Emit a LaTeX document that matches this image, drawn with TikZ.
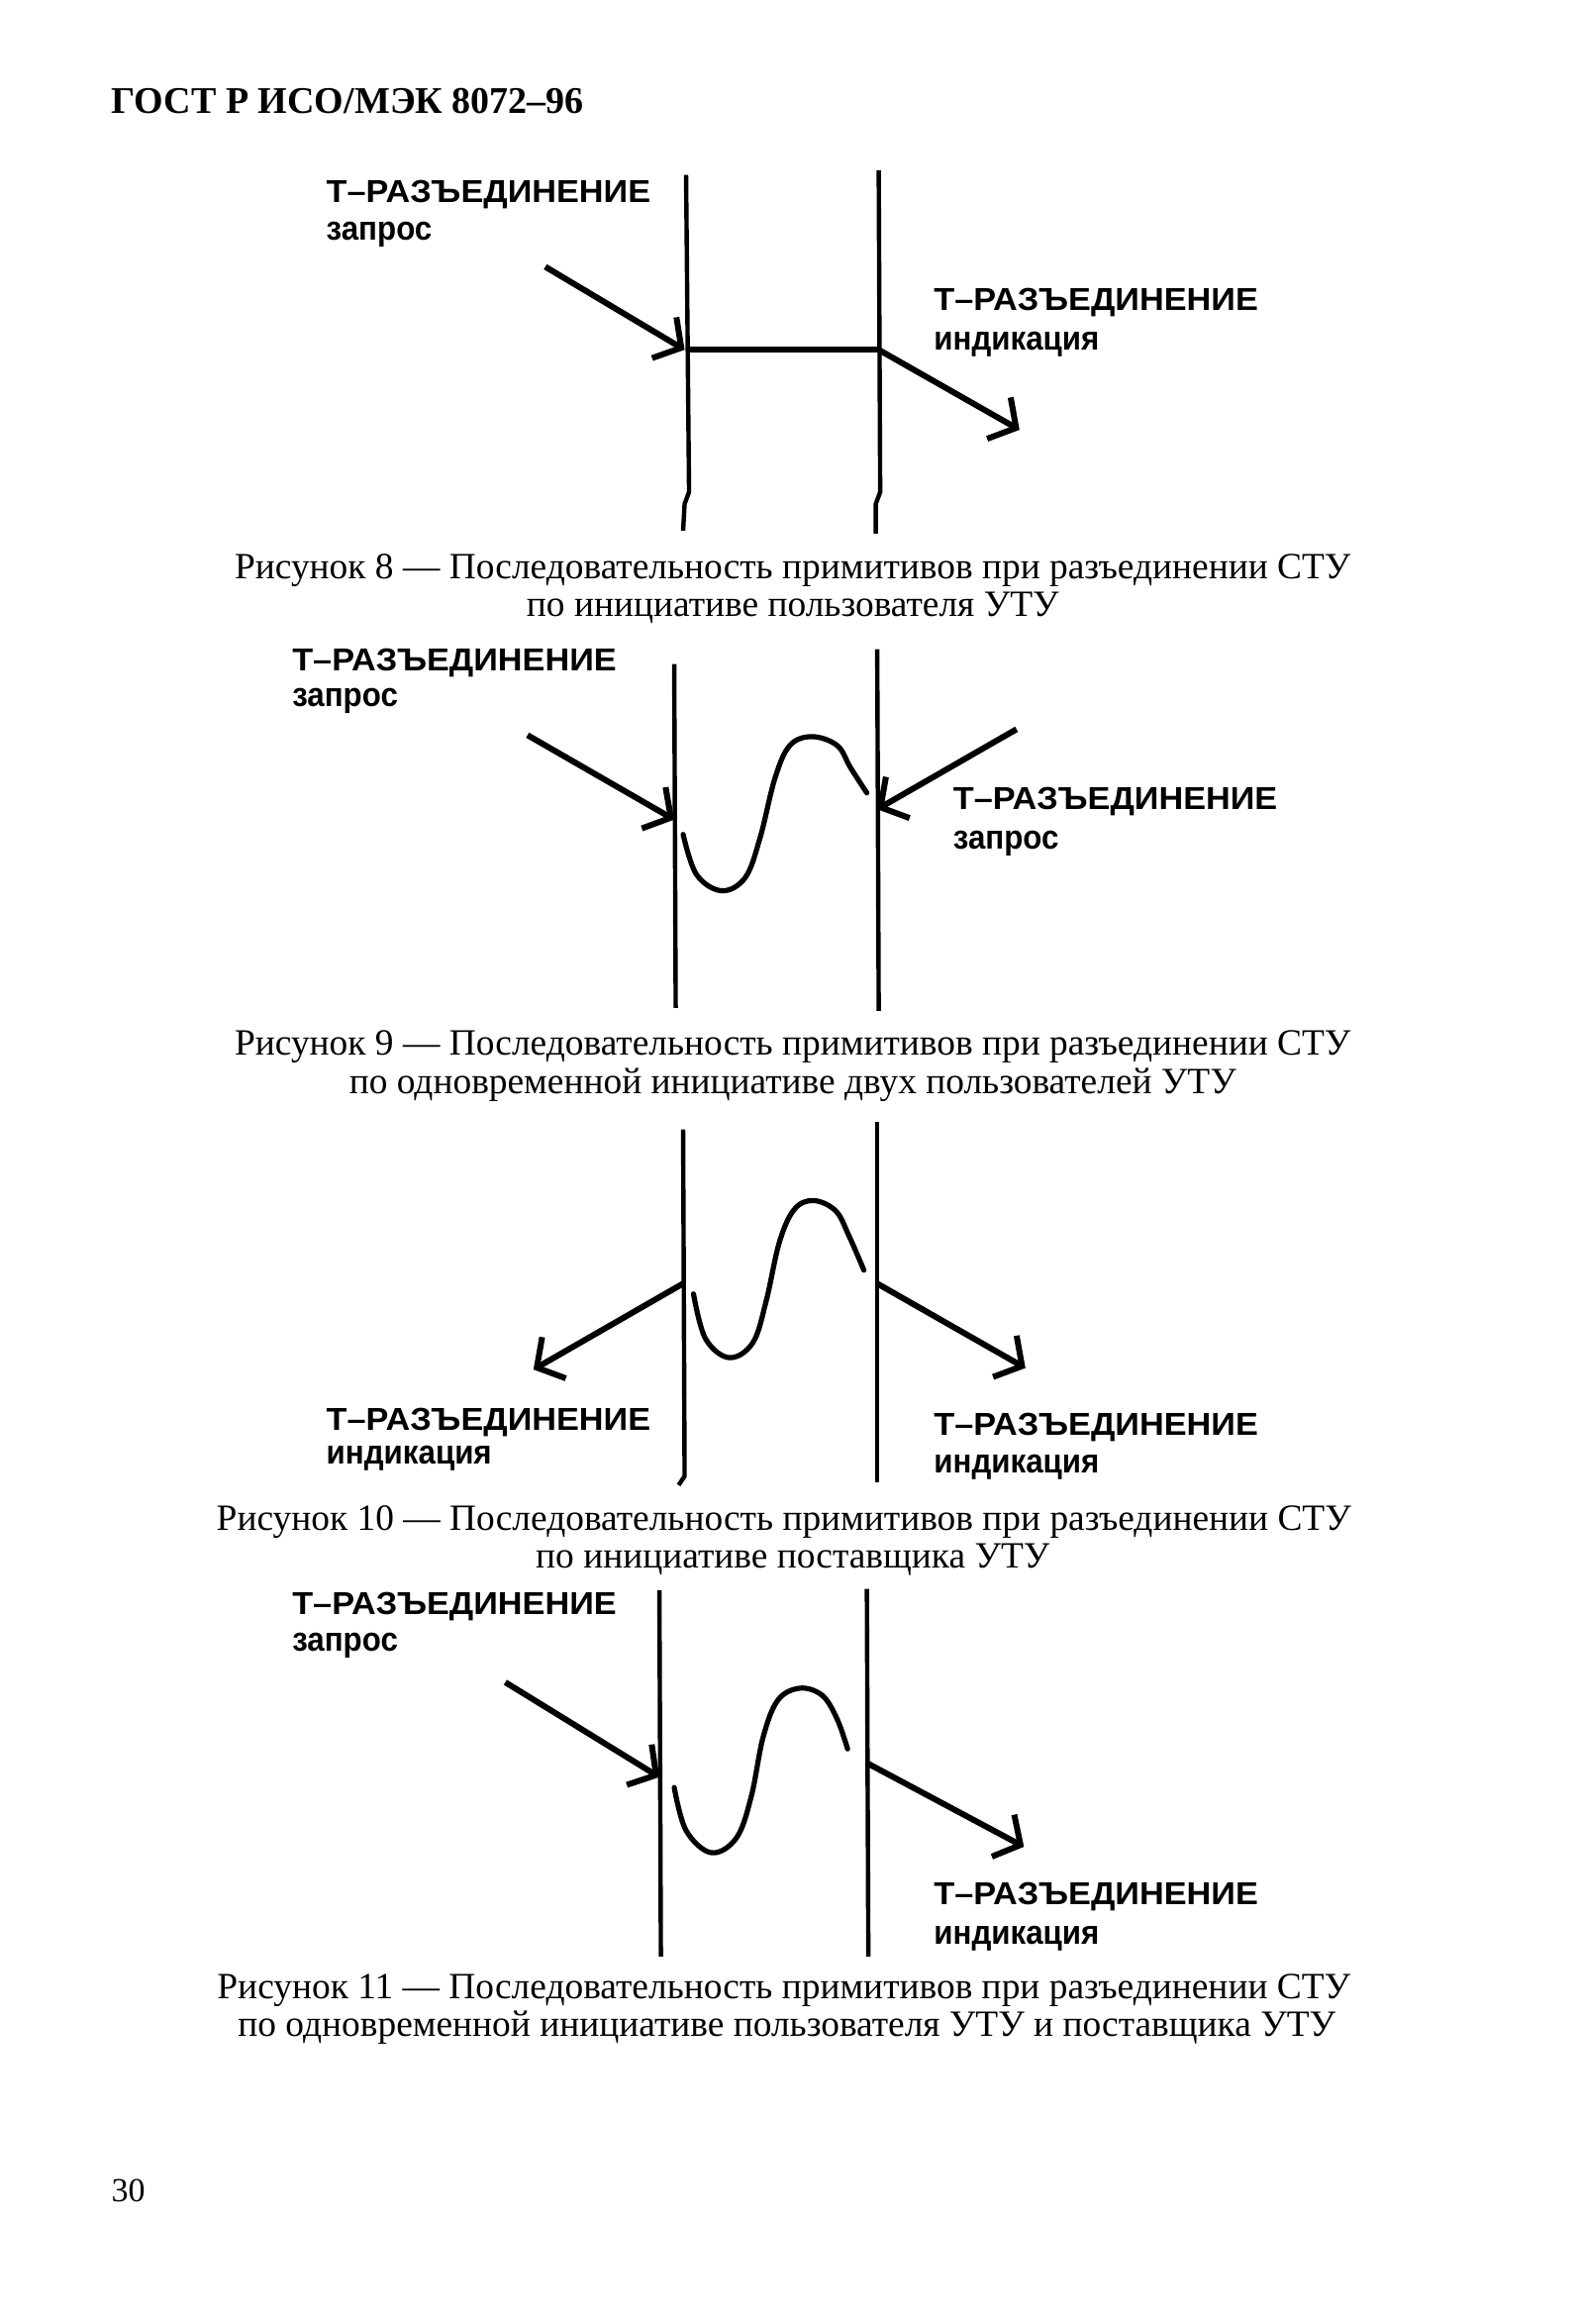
\documentclass[tikz,border=0pt]{standalone}
\usepackage{fontspec}
\setmainfont{Liberation Serif}
\newfontfamily\labfontW[FakeStretch=1.07]{Liberation Sans}
\newfontfamily\labfontN[FakeStretch=0.92]{Liberation Sans}
\usetikzlibrary{arrows.meta}
\begin{document}
\begin{tikzpicture}[x=0.74813pt,y=-0.74813pt,
  life/.style={line width=2.2pt},
  msg/.style={line width=3pt,-{Straight Barb[length=10pt,width=24pt]}},
  wave/.style={line width=2.6pt,line cap=round},
  capL/.style={anchor=west,inner sep=0pt,font=\labfontW\bfseries\fontsize{16}{16}\selectfont},
  lowL/.style={anchor=west,inner sep=0pt,font=\labfontN\bfseries\fontsize{17}{17}\selectfont},
  capt/.style={inner sep=0pt,font=\fontsize{18.7}{18.7}\selectfont},
  head/.style={anchor=west,inner sep=0pt,font=\bfseries\fontsize{19}{19}\selectfont}]
\useasboundingbox (0,0) rectangle (1066,1568);
\fill[white] (0,0) rectangle (1066,1568);

\node[head] (hdr) at (75,68) {ГОСТ Р ИСО/МЭК 8072–96};

% ---------- Figure 8 ----------
\coordinate (f8Lt) at (463,118); \coordinate (f8Lk) at (465,332); \coordinate (f8Lk2) at (462,340); \coordinate (f8Lb) at (461,358);
\coordinate (f8Rt) at (593,115); \coordinate (f8Rk) at (594,332); \coordinate (f8Rk2) at (591,340); \coordinate (f8Rb) at (591,360);
\draw[life] (f8Lt) -- (f8Lk) -- (f8Lk2) -- (f8Lb);
\draw[life] (f8Rt) -- (f8Rk) -- (f8Rk2) -- (f8Rb);
\coordinate (f8a1s) at (368,180); \coordinate (f8a1e) at (462,236);
\coordinate (f8h1) at (463,236); \coordinate (f8h2) at (593,236);
\coordinate (f8a2e) at (688,290);
\draw[msg] (f8a1s) -- (f8a1e);
\draw[line width=3pt] (f8h1) -- (f8h2);
\draw[msg] (f8h2) -- (f8a2e);
\node[capL] (f8l1) at (220,131) {Т–РАЗЪЕДИНЕНИЕ};
\node[lowL] (f8l2) at (220,158) {запрос};
\node[capL] (f8r1) at (630,204) {Т–РАЗЪЕДИНЕНИЕ};
\node[lowL] (f8r2) at (630,232) {индикация};
\node[capt] (c8a) at (535,385) {Рисунок 8 — Последовательность примитивов при разъединении СТУ};
\node[capt] (c8b) at (535,410) {по инициативе пользователя УТУ};

% ---------- Figure 9 ----------
\coordinate (f9Lt) at (455,448); \coordinate (f9Lb) at (456,680);
\coordinate (f9Rt) at (592,438); \coordinate (f9Rb) at (593,682);
\draw[life] (f9Lt) -- (f9Lb);
\draw[life] (f9Rt) -- (f9Rb);
\coordinate (f9a1s) at (356,496); \coordinate (f9a1e) at (455,553);
\coordinate (f9a2s) at (686,492); \coordinate (f9a2e) at (592,546);
\draw[msg] (f9a1s) -- (f9a1e);
\draw[msg] (f9a2s) -- (f9a2e);
\draw[wave] plot[smooth,tension=0.6] coordinates {(461,563) (470,590) (487,601) (503,592) (513,565) (523,525) (533,503) (548,497) (565,503) (574,518) (585,535)};
\node[capL] (f9l1) at (197,447) {Т–РАЗЪЕДИНЕНИЕ};
\node[lowL] (f9l2) at (197,473) {запрос};
\node[capL] (f9r1) at (643,541) {Т–РАЗЪЕДИНЕНИЕ};
\node[lowL] (f9r2) at (643,569) {запрос};
\node[capt] (c9a) at (535,706) {Рисунок 9 — Последовательность примитивов при разъединении СТУ};
\node[capt] (c9b) at (535,732) {по одновременной инициативе двух пользователей УТУ};

% ---------- Figure 10 ----------
\coordinate (f10Lt) at (461,762); \coordinate (f10Lb) at (462,996); \coordinate (f10Lh) at (458,1002);
\coordinate (f10Rt) at (592,757); \coordinate (f10Rb) at (592,1000);
\draw[life] (f10Lt) -- (f10Lb) -- (f10Lh);
\draw[life] (f10Rt) -- (f10Rb);
\coordinate (f10a1s) at (461,866); \coordinate (f10a1e) at (360,924);
\coordinate (f10a2s) at (592,866); \coordinate (f10a2e) at (692,923);
\draw[msg] (f10a1s) -- (f10a1e);
\draw[msg] (f10a2s) -- (f10a2e);
\draw[wave] plot[smooth,tension=0.6] coordinates {(468,873) (476,903) (492,916) (508,906) (517,878) (526,838) (536,816) (549,810) (564,817) (573,834) (583,857)};
\node[capL] (f10l1) at (220,960) {Т–РАЗЪЕДИНЕНИЕ};
\node[lowL] (f10l2) at (220,984) {индикация};
\node[capL] (f10r1) at (630,963) {Т–РАЗЪЕДИНЕНИЕ};
\node[lowL] (f10r2) at (630,990) {индикация};
\node[capt] (c10a) at (529,1027) {Рисунок 10 — Последовательность примитивов при разъединении СТУ};
\node[capt] (c10b) at (535,1052) {по инициативе поставщика УТУ};

% ---------- Figure 11 ----------
\coordinate (f11Lt) at (445,1073); \coordinate (f11Lb) at (446,1320);
\coordinate (f11Rt) at (585,1072); \coordinate (f11Rb) at (586,1320);
\draw[life] (f11Lt) -- (f11Lb);
\draw[life] (f11Rt) -- (f11Rb);
\coordinate (f11a1s) at (341,1135); \coordinate (f11a1e) at (445,1199);
\coordinate (f11a2s) at (586,1190); \coordinate (f11a2e) at (691,1246);
\draw[msg] (f11a1s) -- (f11a1e);
\draw[msg] (f11a2s) -- (f11a2e);
\draw[wave] plot[smooth,tension=0.6] coordinates {(455,1206) (463,1235) (480,1250) (497,1240) (507,1212) (515,1172) (525,1147) (540,1139) (555,1144) (565,1160) (572,1180)};
\node[capL] (f11l1) at (197,1084) {Т–РАЗЪЕДИНЕНИЕ};
\node[lowL] (f11l2) at (197,1110) {запрос};
\node[capL] (f11r1) at (630,1280) {Т–РАЗЪЕДИНЕНИЕ};
\node[lowL] (f11r2) at (630,1308) {индикация};
\node[capt] (c11a) at (529,1343) {Рисунок 11 — Последовательность примитивов при разъединении СТУ};
\node[capt] (c11b) at (531,1368) {по одновременной инициативе пользователя УТУ и поставщика УТУ};

\node[anchor=west,inner sep=0pt,font=\fontsize{17}{17}\selectfont] (pg) at (75,1478) {30};
\end{tikzpicture}
\end{document}
